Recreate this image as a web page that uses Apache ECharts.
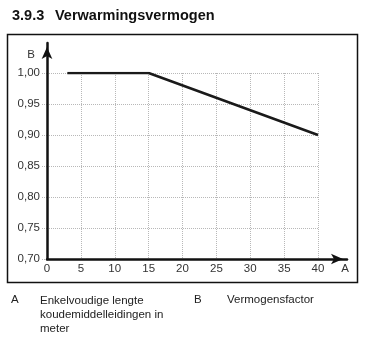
<!DOCTYPE html>
<html>
<head>
<meta charset="utf-8">
<script src="https://cdn.jsdelivr.net/npm/echarts@6/dist/echarts.min.js"></script>
<style>
html,body{margin:0;padding:0;background:#fff;}
#c{width:369px;height:338px;}
</style>
</head>
<body>
<div id="c"></div>
<script>
// Data
const lengthA = [3, 15, 40];          // Enkelvoudige lengte koudemiddelleidingen (m)
const factorB = [1.00, 1.00, 0.90];   // Vermogensfactor
const xRange = [0, 40, 5];
const yRange = [0.70, 1.00, 0.05];
const titleNum = '3.9.3';
const titleText = 'Verwarmingsvermogen';
const legendA = ['Enkelvoudige lengte', 'koudemiddelleidingen in', 'meter'];
const legendB = 'Vermogensfactor';

const font = '"Liberation Sans", Arial, sans-serif';
const chart = echarts.init(document.getElementById('c'), null, {renderer: 'canvas'});

const pts = lengthA.map((x, i) => [x, factorB[i]]);

chart.setOption({
  animation: false,
  backgroundColor: '#fff',
  grid: [
    {left: 47, right: 51, top: 73, bottom: 79},
    {left: 47, right: 22, top: 43, bottom: 79}
  ],
  xAxis: [
    {
      gridIndex: 0, type: 'value', min: xRange[0], max: xRange[1], interval: xRange[2],
      axisLine: {show: false}, axisTick: {show: false},
      axisLabel: {margin: 4, color: '#333', fontSize: 11.5, fontFamily: font},
      splitLine: {show: true, lineStyle: {color: '#b8b8b8', type: [1, 1], width: 1}}
    },
    {
      gridIndex: 1, type: 'value', min: 0, max: 1, z: 10,
      axisLine: {show: true, symbol: ['none', 'arrow'], symbolSize: [8, 12], symbolOffset: [0, -4], lineStyle: {color: '#111', width: 2.5}},
      axisTick: {show: false}, axisLabel: {show: false}, splitLine: {show: false},
      name: 'A', nameLocation: 'end', nameGap: -2,
      nameTextStyle: {align: 'center', verticalAlign: 'top', padding: [4, 0, 0, 0], color: '#333', fontSize: 11.5, fontFamily: font}
    }
  ],
  yAxis: [
    {
      gridIndex: 0, type: 'value', min: yRange[0], max: yRange[1], interval: yRange[2],
      axisLine: {show: false},
      axisTick: {show: true, inside: false, length: 6, lineStyle: {color: '#b8b8b8', type: [1, 1], width: 1}},
      axisLabel: {margin: 7, color: '#333', fontSize: 11.5, fontFamily: font,
        formatter: v => v.toFixed(2).replace('.', ',')},
      splitLine: {show: true, lineStyle: {color: '#b8b8b8', type: [1, 1], width: 1}}
    },
    {
      gridIndex: 1, type: 'value', min: 0, max: 1, z: 10,
      axisLine: {show: true, symbol: ['none', 'arrow'], symbolSize: [8, 12], symbolOffset: [0, -4], lineStyle: {color: '#111', width: 2.5}},
      axisTick: {show: false}, axisLabel: {show: false}, splitLine: {show: false},
      name: 'B', nameLocation: 'end', nameGap: -12,
      nameTextStyle: {align: 'right', verticalAlign: 'middle', padding: [0, 12, 0, 0], color: '#333', fontSize: 11.5, fontFamily: font}
    }
  ],
  series: [{
    type: 'line', xAxisIndex: 0, yAxisIndex: 0, data: pts,
    showSymbol: false, symbol: 'none',
    lineStyle: {color: '#1a1a1a', width: 2.5}, z: 5
  }],
  graphic: [
    {type: 'rect', shape: {x: 7.5, y: 34.5, width: 350, height: 248}, style: {fill: null, stroke: '#111', lineWidth: 1.5}, silent: true},
    {type: 'text', left: 12, top: 8, style: {text: titleNum, font: 'bold 14.5px ' + font, fill: '#111'}},
    {type: 'text', left: 55, top: 8, style: {text: titleText, font: 'bold 14.5px ' + font, fill: '#111'}},
    {type: 'text', left: 11, top: 294, style: {text: 'A', font: '11.5px ' + font, fill: '#222'}},
    {type: 'text', left: 40, top: 294, style: {text: legendA.join('\n'), font: '11.5px ' + font, lineHeight: 14, fill: '#222'}},
    {type: 'text', left: 194, top: 294, style: {text: 'B', font: '11.5px ' + font, fill: '#222'}},
    {type: 'text', left: 227, top: 294, style: {text: legendB, font: '11.5px ' + font, fill: '#222'}}
  ]
});
</script>
</body>
</html>
